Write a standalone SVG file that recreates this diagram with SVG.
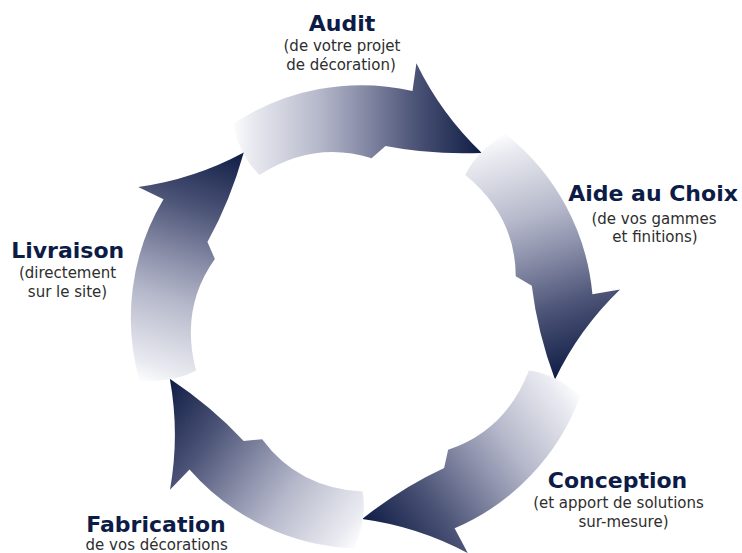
<svg xmlns="http://www.w3.org/2000/svg" xmlns:xlink="http://www.w3.org/1999/xlink" width="742" height="553" viewBox="0 0 742 553">
  <style>
    .h { font-family: "DejaVu Sans", "Liberation Sans", sans-serif; font-weight: bold; font-size: 22px; fill: #0c1c46; text-anchor: middle; }
    .s { font-family: "DejaVu Sans", "Liberation Sans", sans-serif; font-size: 15px; fill: #2e2e2e; text-anchor: middle; }
  </style>
  <defs>
    <linearGradient id="g" gradientUnits="userSpaceOnUse" x1="-132" y1="0" x2="122" y2="0">
      <stop offset="0" stop-color="#ffffff"/>
      <stop offset="0.08" stop-color="#eaebf1"/>
      <stop offset="0.35" stop-color="#b5b8ca"/>
      <stop offset="0.5" stop-color="#8d91ab"/>
      <stop offset="0.73" stop-color="#4b5376"/>
      <stop offset="0.93" stop-color="#1d2950"/>
      <stop offset="1" stop-color="#0b1a41"/>
    </linearGradient>
    <path id="arrow" fill="url(#g)" d="M -129.7,-192.3 A 231 231 0 0 1 50.0,-225.5 L 53.9,-253.3 Q 78.5,-202.6 119.3,-163.6 Q 68.8,-161.5 23.0,-170.5 L 9.1,-158.2 Q -48.5,-176.5 -102.9,-141.6 Q -122.1,-159.45 -129.7,-192.3 Z"/>
  </defs>
  <rect width="742" height="553" fill="#ffffff"/>
  <g id="connectors">
    <use xlink:href="#arrow" href="#arrow" transform="translate(362.5,316.5) rotate(0)"/>
    <use xlink:href="#arrow" href="#arrow" transform="translate(362.5,316.5) rotate(72)"/>
    <use xlink:href="#arrow" href="#arrow" transform="translate(362.5,316.5) rotate(144)"/>
    <use xlink:href="#arrow" href="#arrow" transform="translate(362.5,316.5) rotate(216)"/>
    <use xlink:href="#arrow" href="#arrow" transform="translate(362.5,316.5) rotate(288)"/>
  </g>
  <g id="audit">
    <text class="h" x="342" y="31">Audit</text>
    <text class="s" x="342" y="50.5">(de votre projet</text>
    <text class="s" x="341" y="69.5">de décoration)</text>
  </g>
  <g id="aide-au-choix">
    <text class="h" x="653" y="201">Aide au Choix</text>
    <text class="s" x="654" y="224">(de vos gammes</text>
    <text class="s" x="655" y="242">et finitions)</text>
  </g>
  <g id="conception">
    <text class="h" x="617.5" y="487.5">Conception</text>
    <text class="s" x="618.5" y="508.3">(et apport de solutions</text>
    <text class="s" x="623.5" y="526.7">sur-mesure)</text>
  </g>
  <g id="fabrication">
    <text class="h" x="156" y="531.5">Fabrication</text>
    <text class="s" x="156.7" y="549.5">de vos décorations</text>
  </g>
  <g id="livraison">
    <text class="h" x="67.7" y="258.3">Livraison</text>
    <text class="s" x="67.5" y="278.3">(directement</text>
    <text class="s" x="67.5" y="296.7">sur le site)</text>
  </g>
</svg>
